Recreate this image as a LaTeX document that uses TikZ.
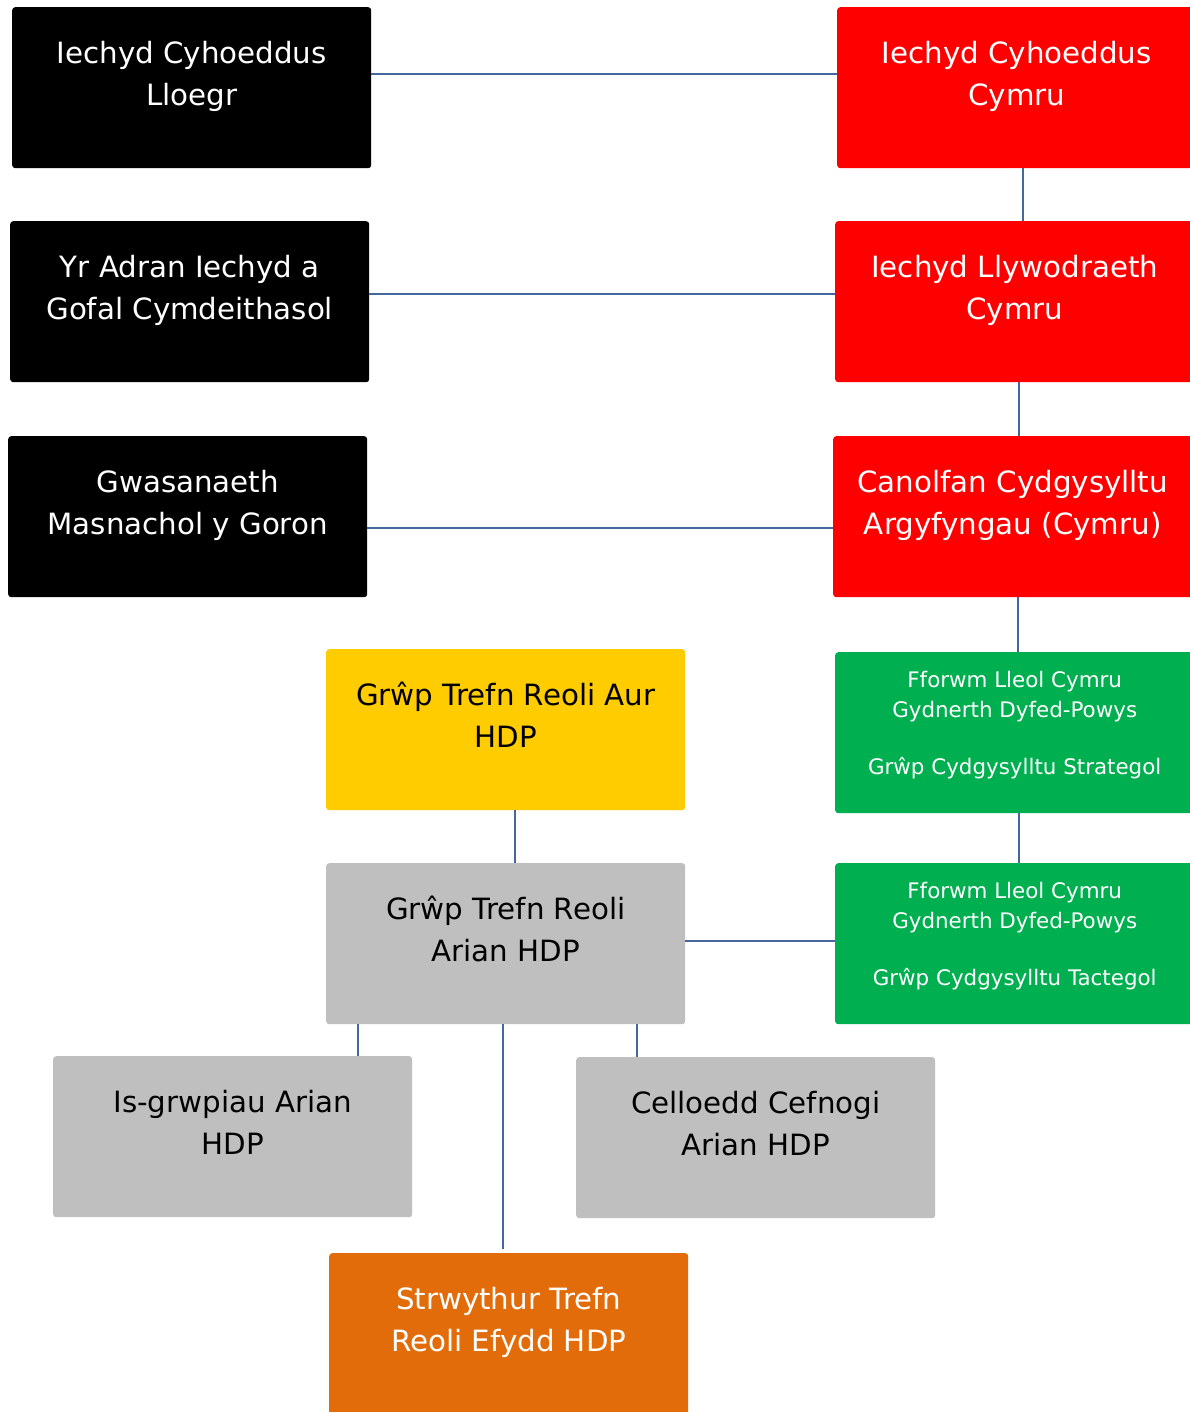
\documentclass[tikz,border=0pt]{standalone}
\usepackage{fontspec}
\setmainfont{DejaVu Sans}
\definecolor{cred}{HTML}{FF0000}
\definecolor{cgreen}{HTML}{00B050}
\definecolor{cyellow}{HTML}{FFCC00}
\definecolor{cgrey}{HTML}{BFBFBF}
\definecolor{corange}{HTML}{E36C0A}
\definecolor{cline}{RGB}{68,103,158}
\newcommand{\bigtxt}[2]{\parbox[t][161pt][t]{359pt}{\centering\fontsize{29.3pt}{42pt}\selectfont\rule{0pt}{56.5pt}#1\\#2}}
\newcommand{\smalltxt}[3]{\parbox[t][161pt][t]{359pt}{\centering\fontsize{21.4pt}{29.5pt}\selectfont\rule{0pt}{35.5pt}#1\\#2\\[28pt]#3}}
\begin{document}
\begin{tikzpicture}[x=1pt,y=-1pt,
  orgbox/.style={rectangle, rounded corners=3pt, inner sep=0pt, anchor=north west, minimum width=359pt, minimum height=161pt},
  conn/.style={draw=cline, line width=1.6pt}]
\useasboundingbox[fill=white] (0,0) rectangle (1190,1412);
% black column
\node[orgbox, fill=black, text=white] (b1) at (12,7) {\bigtxt{Iechyd Cyhoeddus}{Lloegr}};
\node[orgbox, fill=black, text=white] (b2) at (10,221) {\bigtxt{Yr Adran Iechyd a}{Gofal Cymdeithasol}};
\node[orgbox, fill=black, text=white] (b3) at (8,436) {\bigtxt{Gwasanaeth}{Masnachol y Goron}};
% red column
\node[orgbox, fill=cred, text=white] (r1) at (837,7) {\bigtxt{Iechyd Cyhoeddus}{Cymru}};
\node[orgbox, fill=cred, text=white] (r2) at (835,221) {\bigtxt{Iechyd Llywodraeth}{Cymru}};
\node[orgbox, fill=cred, text=white] (r3) at (833,436) {\bigtxt{Canolfan Cydgysylltu}{Argyfyngau (Cymru)}};
% green
\node[orgbox, fill=cgreen, text=white] (g1) at (835,652) {\smalltxt{Fforwm Lleol Cymru}{Gydnerth Dyfed-Powys}{Grŵp Cydgysylltu Strategol}};
\node[orgbox, fill=cgreen, text=white] (g2) at (835,863) {\smalltxt{Fforwm Lleol Cymru}{Gydnerth Dyfed-Powys}{Grŵp Cydgysylltu Tactegol}};
% gold / silver / bronze
\node[orgbox, fill=cyellow, text=black] (y1) at (326,649) {\bigtxt{Grŵp Trefn Reoli Aur}{HDP}};
\node[orgbox, fill=cgrey, text=black] (s1) at (326,863) {\bigtxt{Grŵp Trefn Reoli}{Arian HDP}};
\node[orgbox, fill=cgrey, text=black] (s2) at (53,1056) {\bigtxt{Is-grwpiau Arian}{HDP}};
\node[orgbox, fill=cgrey, text=black] (s3) at (576,1057) {\bigtxt{Celloedd Cefnogi}{Arian HDP}};
\node[orgbox, fill=corange, text=white] (o1) at (329,1253) {\bigtxt{Strwythur Trefn}{Reoli Efydd HDP}};
% connectors
\draw[conn] ([yshift=13.5pt]b1.east) -- ([yshift=13.5pt]r1.west);
\draw[conn] ([yshift=7.5pt]b2.east) -- ([yshift=7.5pt]r2.west);
\draw[conn] ([yshift=-11.5pt]b3.east) -- ([yshift=-11.5pt]r3.west);
\draw[conn] ([xshift=6.5pt]r1.south) -- ([xshift=6.5pt]r1.south |- r2.north);
\draw[conn] ([xshift=4.5pt]r2.south) -- ([xshift=4.5pt]r2.south |- r3.north);
\draw[conn] ([xshift=5.5pt]r3.south) -- ([xshift=5.5pt]r3.south |- g1.north);
\draw[conn] ([xshift=4.5pt]g1.south) -- ([xshift=4.5pt]g1.south |- g2.north);
\draw[conn] ([xshift=9.5pt]y1.south) -- ([xshift=9.5pt]y1.south |- s1.north);
\draw[conn] ([yshift=2.5pt]s1.east) -- ([yshift=2.5pt]g2.west);
\draw[conn] ([xshift=-147.5pt]s1.south) -- ([xshift=-147.5pt]s1.south |- s2.north);
\draw[conn] ([xshift=131.5pt]s1.south) -- ([xshift=131.5pt]s1.south |- s3.north);
\draw[conn] ([xshift=-2.5pt]s1.south) -- ([xshift=-2.5pt,yshift=4pt]s1.south |- o1.north);
\end{tikzpicture}
\end{document}
